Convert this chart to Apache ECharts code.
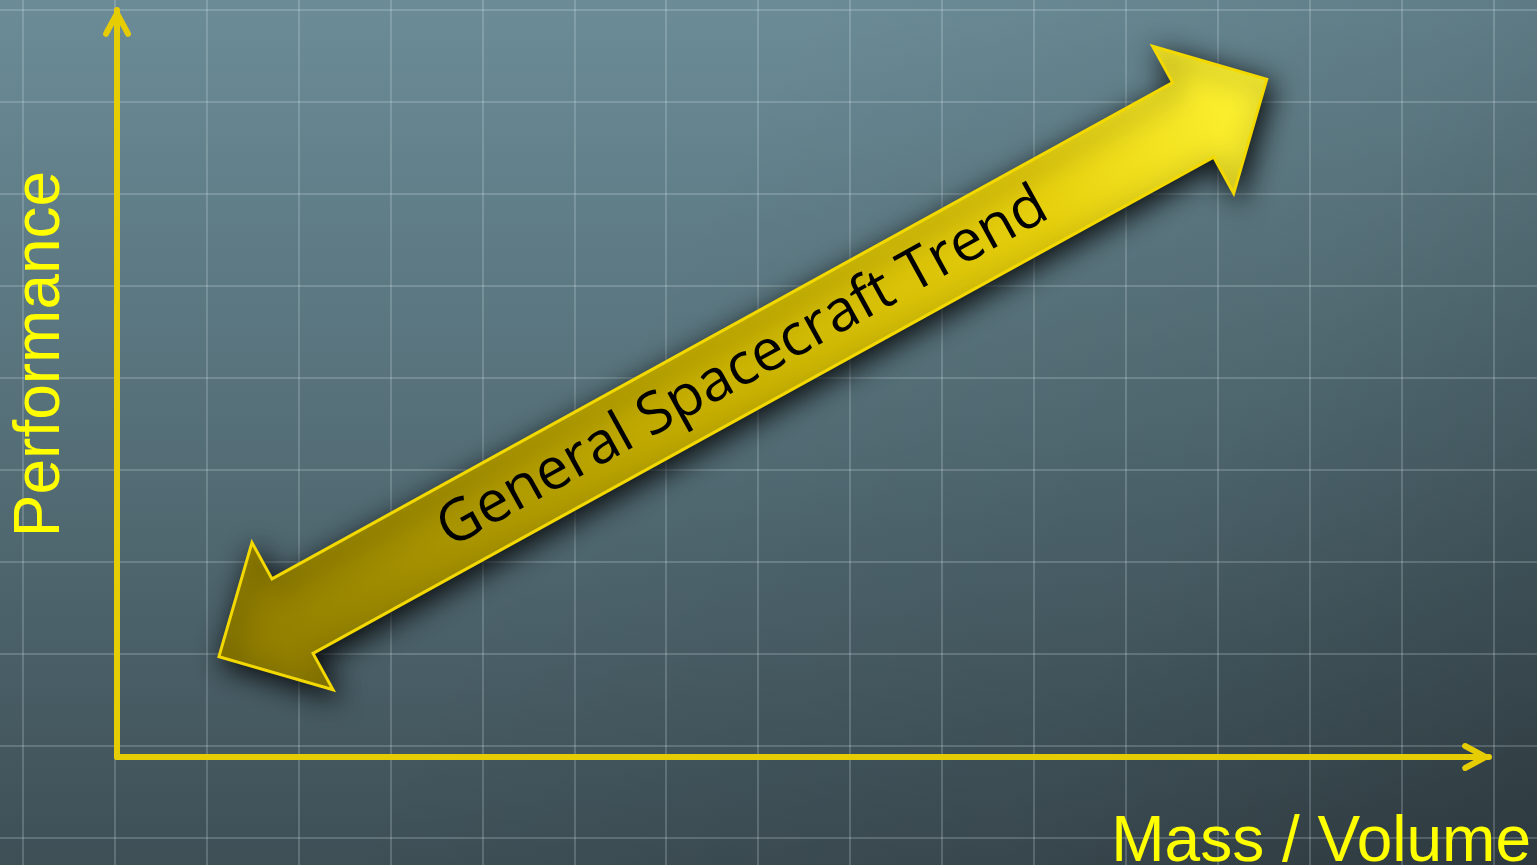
<!DOCTYPE html>
<html>
<head>
<meta charset="utf-8">
<title>General Spacecraft Trend</title>
<script src="https://cdn.jsdelivr.net/npm/echarts@6/dist/echarts.min.js"></script>
<style>
  html, body { margin: 0; padding: 0; background: #4b6068; }
  #chart { width: 1537px; height: 865px; }
</style>
</head>
<body>
<div id="chart"></div>
<script>
// Axis titles
const xAxisTitle = 'Mass / Volume';
const yAxisTitle = 'Performance';

// Both axes run 0..100 (qualitative scale, no tick labels)
const axisRange = [0, 100];

// Trend arrow, endpoints in axis units
const trendLabel = 'General Spacecraft Trend';
const trendStart = [7.43, 13.43];
const trendEnd = [83.8, 90.72];

// Graph-paper backdrop: number of cells across / down
const paperCols = 18;
const paperRows = 11;

const AXIS_YELLOW = '#e6cc02';
const TITLE_YELLOW = '#ffff00';
const PAPER_LINE = 'rgba(225,240,245,0.2)';
// open chevron used as the axis arrow head (points up, rotated by ECharts)
const CHEVRON = 'path://M14 0 L27.2 24.5 A2.9 2.9 0 0 1 22.2 27.4 L14 12 L5.8 27.4 A2.9 2.9 0 0 1 0.8 24.5 Z';

const chart = echarts.init(document.getElementById('chart'), null, { renderer: 'canvas' });

function renderTrendArrow(params, api) {
  const p0 = api.coord([api.value(0), api.value(1)]);
  const p1 = api.coord([api.value(2), api.value(3)]);
  const dx = p1[0] - p0[0];
  const dy = p1[1] - p0[1];
  const len = Math.hypot(dx, dy);
  const ux = dx / len, uy = dy / len;
  const vx = -uy, vy = ux;
  const headLen = 84, headHalf = 84, shaftHalf = 42.5;
  const pt = (u, v) => [p0[0] + ux * u + vx * v, p0[1] + uy * u + vy * v];
  const points = [
    pt(0, 0),
    pt(headLen, -headHalf), pt(headLen, -shaftHalf),
    pt(len - headLen, -shaftHalf), pt(len - headLen, -headHalf),
    pt(len, 0),
    pt(len - headLen, headHalf), pt(len - headLen, shaftHalf),
    pt(headLen, shaftHalf), pt(headLen, headHalf)
  ];
  const fill = {
    type: 'linear', global: true,
    x: p0[0], y: p0[1], x2: p1[0], y2: p1[1],
    colorStops: [
      { offset: 0, color: '#8c7a00' },
      { offset: 0.45, color: '#c6af00' },
      { offset: 0.78, color: '#e6cf0c' },
      { offset: 1, color: '#fff535' }
    ]
  };
  return {
    type: 'group',
    children: [
      {
        type: 'polygon',
        shape: { points: points },
        style: {
          fill: fill,
          stroke: '#f3d900',
          lineWidth: 3,
          lineJoin: 'miter',
          shadowBlur: 28,
          shadowColor: 'rgba(0,0,0,0.9)',
          shadowOffsetX: 5,
          shadowOffsetY: 7
        }
      },
      {
        type: 'text',
        x: (p0[0] + p1[0]) / 2,
        y: (p0[1] + p1[1]) / 2,
        rotation: Math.atan2(-dy, dx),
        style: {
          text: trendLabel,
          fill: '#000000',
          fontSize: 58,
          fontFamily: '"Open Sans", "DejaVu Sans", sans-serif',
          align: 'center',
          verticalAlign: 'middle'
        }
      }
    ]
  };
}

const option = {
  animation: false,
  backgroundColor: {
    type: 'linear', x: 0, y: 0, x2: 0, y2: 1,
    colorStops: [
      { offset: 0, color: '#6b8c97' },
      { offset: 0.5, color: '#556f78' },
      { offset: 1, color: '#3e4f56' }
    ]
  },
  graphic: [{
    type: 'rect',
    z: -10,
    silent: true,
    shape: { x: 0, y: 0, width: 1537, height: 865 },
    style: {
      fill: {
        type: 'linear', x: 0, y: 0, x2: 1, y2: 1,
        colorStops: [
          { offset: 0, color: 'rgba(0,0,0,0)' },
          { offset: 0.4, color: 'rgba(0,0,0,0)' },
          { offset: 0.73, color: 'rgba(0,0,0,0.1)' },
          { offset: 1, color: 'rgba(0,0,0,0.28)' }
        ]
      }
    }
  }],
  grid: [
    { left: 117, top: 10, right: 48, bottom: 108, outerBoundsMode: 'none' },
    { left: -69, top: -82, width: 91.9 * paperCols, height: 92 * paperRows, outerBoundsMode: 'none' }
  ],
  xAxis: [
    {
      type: 'value', gridIndex: 0, min: axisRange[0], max: axisRange[1],
      axisLabel: { show: false }, axisTick: { show: false }, splitLine: { show: false },
      axisLine: {
        show: true,
        lineStyle: { color: AXIS_YELLOW, width: 6 },
        symbol: ['none', CHEVRON],
        symbolSize: [28, 30],
        symbolOffset: [0, -12]
      },
      name: xAxisTitle,
      nameLocation: 'end',
      nameGap: 42,
      nameTextStyle: {
        color: TITLE_YELLOW, fontSize: 64, fontFamily: '"Liberation Sans", Arial, sans-serif',
        align: 'right', verticalAlign: 'top', padding: [54, 0, 0, 0]
      }
    },
    {
      type: 'value', gridIndex: 1, min: 0, max: paperCols, interval: 1,
      axisLabel: { show: false }, axisTick: { show: false }, axisLine: { show: false },
      splitLine: { show: true, lineStyle: { color: PAPER_LINE, width: 2 } }
    }
  ],
  yAxis: [
    {
      type: 'value', gridIndex: 0, min: axisRange[0], max: axisRange[1],
      axisLabel: { show: false }, axisTick: { show: false }, splitLine: { show: false },
      axisLine: {
        show: true,
        lineStyle: { color: AXIS_YELLOW, width: 6 },
        symbol: ['none', CHEVRON],
        symbolSize: [28, 30],
        symbolOffset: [0, -12]
      },
      name: yAxisTitle,
      nameLocation: 'middle',
      nameRotate: 90,
      nameGap: 44,
      nameTextStyle: {
        color: TITLE_YELLOW, fontSize: 64, fontFamily: '"Liberation Sans", Arial, sans-serif',
        padding: [0, 0, 0, 59]
      }
    },
    {
      type: 'value', gridIndex: 1, min: 0, max: paperRows, interval: 1, inverse: true,
      axisLabel: { show: false }, axisTick: { show: false }, axisLine: { show: false },
      splitLine: { show: true, lineStyle: { color: PAPER_LINE, width: 2 } }
    }
  ],
  series: [{
    type: 'custom',
    name: trendLabel,
    xAxisIndex: 0,
    yAxisIndex: 0,
    encode: { x: [0, 2], y: [1, 3] },
    renderItem: renderTrendArrow,
    data: [[trendStart[0], trendStart[1], trendEnd[0], trendEnd[1]]],
    z: 5
  }]
};

chart.setOption(option);
</script>
</body>
</html>
